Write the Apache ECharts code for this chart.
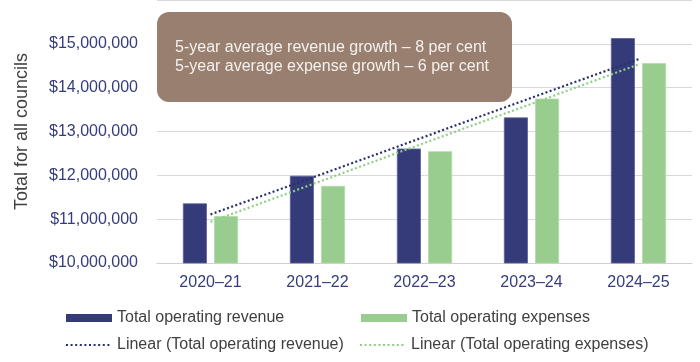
<!DOCTYPE html>
<html><head><meta charset="utf-8">
<script src="https://cdn.jsdelivr.net/npm/echarts@6/dist/echarts.min.js"></script>
<style>html,body{margin:0;padding:0;background:#fff}#c{width:700px;height:362px}</style>
</head><body><div id="c"></div>
<script>
const categories = ['2020–21','2021–22','2022–23','2023–24','2024–25'];
const revenue = [11360000, 11990000, 12610000, 13320000, 15130000];
const expenses = [11070000, 11760000, 12550000, 13750000, 14560000];
const revenueTrend = [11110000, 11990000, 12880000, 13770000, 14650000];
const expenseTrend = [10940000, 11840000, 12740000, 13630000, 14530000];
const yTicks = [10000000, 11000000, 12000000, 13000000, 14000000, 15000000, 16000000];
const noteLines = ['5-year average revenue growth – 8 per cent', '5-year average expense growth – 6 per cent'];
const names = ['Total operating revenue','Total operating expenses','Linear (Total operating revenue)','Linear (Total operating expenses)'];

const FONT = 'Liberation Sans, Arial, sans-serif';
const NAVY = '#343b78', GREEN = '#99cd8f', LABEL = '#353d7d';
const NAVY_DOT = '#27306e', GREEN_DOT = '#8fcf85';
const legendText = {color: '#404040', fontSize: 16, fontFamily: FONT};
function leg(left, top, name, isLine, color) {
  const item = isLine
    ? {name: name, itemStyle: {opacity: 0}, lineStyle: {color: color, width: 2, type: [2, 2.6]}}
    : {name: name, icon: 'rect', itemStyle: {borderWidth: 0}};
  return {left: left, top: top, itemWidth: 46, itemHeight: 8, padding: 0,
          textStyle: legendText, data: [item]};
}
const chart = echarts.init(document.getElementById('c'), null, {renderer:'canvas'});
chart.setOption({
  animation: false,
  textStyle: {fontFamily: FONT},
  grid: {left: 157, right: 8, top: -1, height: 264, containLabel: false},
  xAxis: {
    type: 'category', data: categories,
    axisLine: {lineStyle: {color: '#d0d0d0', width: 1}},
    axisTick: {show: false},
    axisLabel: {color: LABEL, fontSize: 16, fontFamily: FONT, margin: 12}
  },
  yAxis: {
    type: 'value', min: yTicks[0], max: yTicks[yTicks.length-1], interval: 1000000,
    name: 'Total for all councils', nameLocation: 'middle', nameGap: 126, nameRotate: 90,
    nameTextStyle: {color: '#404040', fontSize: 18, fontFamily: FONT},
    axisLine: {show: false}, axisTick: {show: false},
    axisLabel: {color: LABEL, fontSize: 16, fontFamily: FONT, margin: 19, showMaxLabel: false,
      formatter: v => '$' + v.toLocaleString('en-US')},
    splitLine: {lineStyle: {color: '#d9d9d9', width: 1}}
  },
  legend: [
    leg(66, 310, names[0], false),
    leg(361, 310, names[1], false),
    leg(65, 337, names[2], true, NAVY_DOT),
    leg(359, 337, names[3], true, GREEN_DOT)
  ],
  series: [
    {name: names[0], type: 'bar', data: revenue, barWidth: 24, barGap: '30%',
     itemStyle: {color: NAVY, borderColor: '#5b6199', borderWidth: 0.8}},
    {name: names[1], type: 'bar', data: expenses, barWidth: 24,
     itemStyle: {color: GREEN, borderColor: '#b2dba8', borderWidth: 0.8}},
    {name: names[2], type: 'line', data: revenueTrend, symbol: 'none', z: 5,
     lineStyle: {color: NAVY_DOT, width: 2.2, type: [2, 2.4]}, itemStyle: {color: NAVY_DOT}},
    {name: names[3], type: 'line', data: expenseTrend, symbol: 'none', z: 5,
     lineStyle: {color: GREEN_DOT, width: 2.2, type: [2, 2.4]}, itemStyle: {color: GREEN_DOT}}
  ],
  graphic: [
    {type: 'rect', left: 157, top: 12, z: 100,
     shape: {width: 355, height: 90, r: 12}, style: {fill: '#997f6f'}},
    {type: 'text', left: 175, top: 38, z: 101,
     style: {text: noteLines.join('\n'), fill: '#f4f1ee', font: '16px ' + FONT, lineHeight: 19}}
  ]
});
</script></body></html>
